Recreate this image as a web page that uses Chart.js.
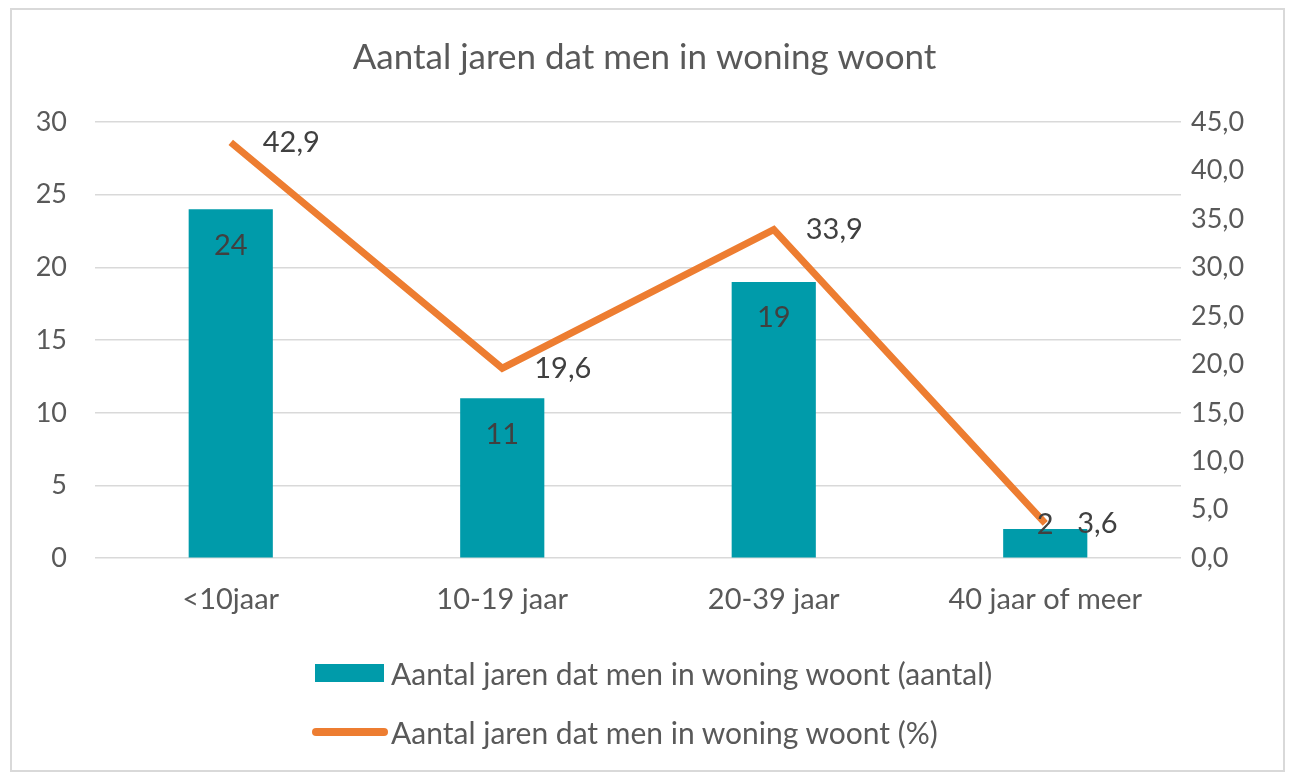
<!DOCTYPE html>
<html>
<head>
<meta charset="utf-8">
<script src="https://cdn.jsdelivr.net/npm/chart.js@4"></script>
<style>
  html, body { margin: 0; padding: 0; background: #fff; }
  #wrap { position: relative; width: 1289px; height: 775px; overflow: hidden; font-family: Lato, sans-serif; }
  #frame { position: absolute; left: 10px; top: 8px; width: 1271px; height: 760px; border: 2px solid #d9d9d9; pointer-events: none; }
  canvas { position: absolute; left: 0; top: 0; }
  .leg { position: absolute; left: 312px; height: 30px; display: flex; align-items: center; color: #595959; font-size: 30px; white-space: nowrap; }
  .sw-bar { width: 69px; height: 18px; background: #009BAA; margin-left: 3px; margin-right: 7px; }
  .sw-line { width: 76px; height: 8px; background: #ED7D31; border-radius: 4px; margin-right: 3px; }
</style>
</head>
<body>
<div id="wrap">
  <canvas id="woningChart" width="1289" height="775"></canvas>
  <div id="frame"></div>
  <div class="leg" style="top:658px"><span class="sw-bar"></span><span id="leg1"></span></div>
  <div class="leg" style="top:717px"><span class="sw-line"></span><span id="leg2"></span></div>
</div>
<script>
// data
const categorieen = ['<10jaar', '10-19 jaar', '20-39 jaar', '40 jaar of meer'];
const aantal = [24, 11, 19, 2];
const procent = [42.9, 19.6, 33.9, 3.6];
const titel = 'Aantal jaren dat men in woning woont';
const labelAantal = 'Aantal jaren dat men in woning woont (aantal)';
const labelProcent = 'Aantal jaren dat men in woning woont (%)';

document.getElementById('leg1').textContent = labelAantal;
document.getElementById('leg2').textContent = labelProcent;

const komma = v => v.toFixed(1).replace('.', ',');

// data labels tekenen (geen datalabels plugin beschikbaar)
const labelPlugin = {
    id: 'labels',
    afterDatasetsDraw(chart) {
        const ctx = chart.ctx;
        ctx.save();
        ctx.font = '29px Lato, sans-serif';
        ctx.fillStyle = '#404040';
        ctx.textBaseline = 'middle';
        // staven
        chart.getDatasetMeta(0).data.forEach((bar, i) => {
            ctx.textAlign = 'center';
            const y = Math.min(bar.y + 36, bar.base - 33);
            ctx.fillText(String(aantal[i]), bar.x, y);
        });
        // lijn
        chart.getDatasetMeta(1).data.forEach((pt, i) => {
            ctx.textAlign = 'left';
            ctx.fillText(komma(procent[i]), pt.x + 32, pt.y);
        });
        ctx.restore();
    }
};

const config = {
    type: 'bar',
    data: {
        labels: categorieen,
        datasets: [{
            label: labelAantal,
            data: aantal,
            backgroundColor: '#009BAA',
            yAxisID: 'y',
            categoryPercentage: 1,
            barPercentage: 0.31,
            order: 2
        }, {
            type: 'line',
            label: labelProcent,
            data: procent,
            borderColor: '#ED7D31',
            borderWidth: 7,
            pointRadius: 0,
            tension: 0,
            yAxisID: 'y1',
            order: 1
        }]
    },
    options: {
        responsive: false,
        animation: false,
        layout: { padding: { left: 0, right: 0, top: 0, bottom: 142 } },
        plugins: {
            legend: { display: false },
            tooltip: { enabled: false },
            title: {
                display: true,
                text: titel,
                color: '#595959',
                font: { family: 'Lato, sans-serif', size: 35, weight: 'normal' },
                padding: { top: 37, bottom: 43 }
            }
        },
        scales: {
            x: {
                grid: { display: false },
                border: { display: false },
                ticks: { color: '#595959', font: { family: 'Lato, sans-serif', size: 29 }, padding: 16 }
            },
            y: {
                position: 'left',
                min: 0, max: 30,
                ticks: { stepSize: 5, color: '#595959', font: { family: 'Lato, sans-serif', size: 27 }, padding: 28 },
                grid: { color: '#d9d9d9', lineWidth: 1.5, drawTicks: false },
                border: { display: false },
                afterFit(scale) { scale.width = 95; }
            },
            y1: {
                position: 'right',
                min: 0, max: 45,
                ticks: { stepSize: 5, color: '#595959', font: { family: 'Lato, sans-serif', size: 27 }, padding: 10, callback: v => komma(v) },
                grid: { display: false, drawTicks: false },
                border: { display: false },
                afterFit(scale) { scale.width = 108; }
            }
        }
    },
    plugins: [labelPlugin]
};

new Chart(document.getElementById('woningChart'), config);
</script>
</body>
</html>
